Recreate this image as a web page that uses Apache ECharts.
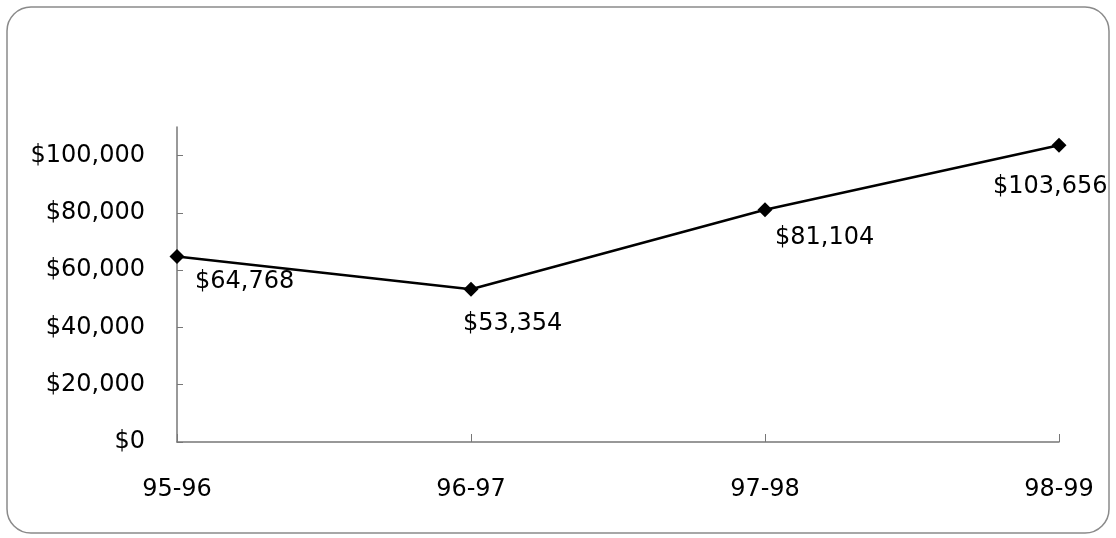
<!DOCTYPE html>
<html>
<head>
<meta charset="utf-8">
<script src="https://cdn.jsdelivr.net/npm/echarts@6/dist/echarts.min.js"></script>
<style>
    html, body { margin: 0; padding: 0; background: #fff; }
    #chart { width: 1116px; height: 538px; }
</style>
</head>
<body>
<div id="chart"></div>
<script>
var years = ['95-96', '96-97', '97-98', '98-99'];//年度
var amounts = [64768, 53354, 81104, 103656];//金额
var yTicks = [0, 20000, 40000, 60000, 80000, 100000];//纵轴刻度
// 标签相对数据点的偏移
var labelOffsets = [[18, 25], [-8, 35], [10, 28], [-66, 42]];

function money(v) {
    return '$' + v.toString().replace(/\B(?=(\d{3})+(?!\d))/g, ',');
}

var myChart = echarts.init(document.getElementById('chart'));
var points = [];
for (var i = 0; i < amounts.length; i++) {
    points.push({
        value: amounts[i],
        label: { offset: labelOffsets[i] }
    });
}

var font = 'DejaVu Sans';
var option = {
    backgroundColor: '#fff',
    animation: false,
    graphic: [{
        type: 'rect',
        shape: { x: 7, y: 7, width: 1102, height: 526, r: 24 },
        style: { fill: 'none', stroke: '#8a8a8a', lineWidth: 1.5 },
        z: -1
    }],
    grid: { left: 177, right: 57, top: 127, bottom: 96 },
    xAxis: {
        type: 'category',
        boundaryGap: false,
        data: years,
        axisLine: { lineStyle: { color: '#777', width: 1.5 } },
        axisTick: { inside: true, length: 8, lineStyle: { color: '#777' } },
        axisLabel: { margin: 36, fontFamily: font, fontSize: 24, color: '#000' }
    },
    yAxis: {
        type: 'value',
        min: 0,
        max: 110000,
        interval: 20000,
        splitLine: { show: false },
        axisLine: { show: true, lineStyle: { color: '#777', width: 1.5 } },
        axisTick: { show: true, inside: true, length: 6, customValues: yTicks, lineStyle: { color: '#777' } },
        axisLabel: {
            margin: 32, fontFamily: font, fontSize: 24, color: '#000',
            customValues: yTicks,
            formatter: money
        }
    },
    series: [{
        type: 'line',
        data: points,
        symbol: 'diamond',
        symbolSize: 15,
        itemStyle: { color: '#000' },
        lineStyle: { color: '#000', width: 2.5 },
        label: {
            show: true,
            position: 'inside',
            align: 'left',
            verticalAlign: 'middle',
            fontFamily: font,
            fontSize: 24,
            color: '#000',
            formatter: function (p) { return money(p.value); }
        }
    }]
};

myChart.setOption(option);
</script>
</body>
</html>
